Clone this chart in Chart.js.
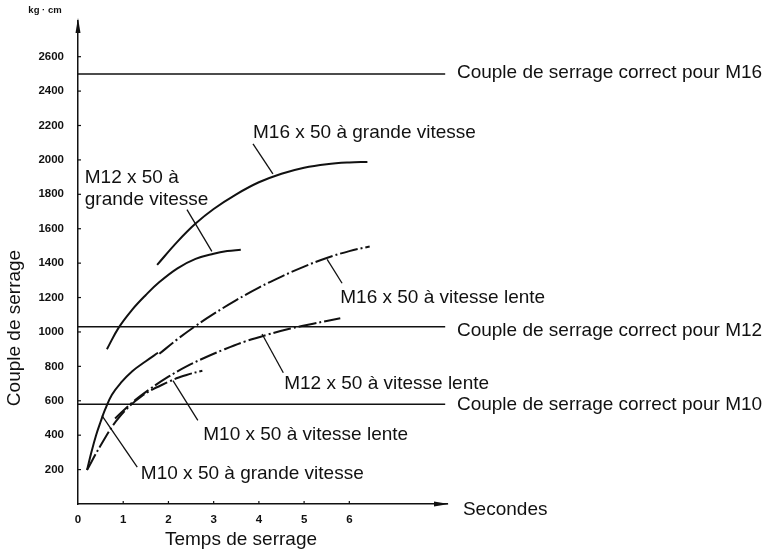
<!DOCTYPE html>
<html>
<head>
<meta charset="utf-8">
<script src="https://cdn.jsdelivr.net/npm/chart.js@4/dist/chart.umd.min.js"></script>
<style>
html,body{margin:0;padding:0;background:#fff;}
canvas{display:block;}
</style>
</head>
<body>
<canvas id="c" width="767" height="556"></canvas>
<script>
// ---- Data (time in seconds, torque in kg·cm) ----
const xTickValues = [0, 1, 2, 3, 4, 5, 6];
const yTickValues = [200, 400, 600, 800, 1000, 1200, 1400, 1600, 1800, 2000, 2200, 2400, 2600];

const m16FastT = [1.75, 2.2, 2.6, 3.0, 3.5, 4.0, 4.5, 5.0, 5.5, 6.0, 6.4];
const m16FastV = [1390, 1525, 1630, 1715, 1800, 1870, 1920, 1955, 1975, 1985, 1988];

const m12FastT = [0.64, 0.9, 1.2, 1.5, 1.8, 2.2, 2.6, 3.0, 3.3, 3.6];
const m12FastV = [900, 1025, 1130, 1215, 1290, 1370, 1425, 1455, 1470, 1478];

const m16SlowT = [1.8, 2.2, 2.6, 3.0, 3.5, 4.0, 4.5, 5.0, 5.5, 6.0, 6.45];
const m16SlowV = [873, 958, 1035, 1105, 1185, 1258, 1322, 1380, 1430, 1470, 1497];

const m12SlowT = [0.82, 1.2, 1.6, 2.0, 2.4, 2.8, 3.2, 3.7, 4.2, 4.7, 5.2, 5.8];
const m12SlowV = [497, 590, 670, 740, 800, 850, 895, 945, 985, 1020, 1048, 1080];

const m10SlowT = [0.2, 0.5, 0.9, 1.4, 2.0, 2.4, 2.75];
const m10SlowV = [197, 340, 500, 625, 710, 750, 775];

const m10FastT = [0.2, 0.3, 0.4, 0.5, 0.6, 0.75, 0.95, 1.2, 1.5, 1.77];
const m10FastV = [197, 305, 400, 478, 550, 635, 705, 772, 830, 879];

// correct tightening torque reference levels
const refNames = ["M16", "M12", "M10"];
const refValues = [2500, 1030, 580];
const refSpan = [0, 8.12];

// ---- Annotations (data coordinates) ----
const leaders = [
  [3.87, 2093, 4.31, 1919],
  [2.41, 1711, 2.96, 1468],
  [5.51, 1422, 5.84, 1283],
  [4.07, 988, 4.54, 763],
  [2.10, 717, 2.65, 486],
  [0.53, 514, 1.31, 214]
];
const curveLabels = [
  {text: "M16 x 50 à grande vitesse", x: 3.87, y: 2156},
  {text: "M12 x 50 à", x: 0.15, y: 1895},
  {text: "grande vitesse", x: 0.15, y: 1769},
  {text: "M16 x 50 à vitesse lente", x: 5.80, y: 1197},
  {text: "M12 x 50 à vitesse lente", x: 4.56, y: 699},
  {text: "M10 x 50 à vitesse lente", x: 2.77, y: 405},
  {text: "M10 x 50 à grande vitesse", x: 1.39, y: 173}
];
const refLabelX = 8.38;
const refLabelY = [2509, 1006, 578];

const pts = (xs, ys) => xs.map((x, i) => ({x: x, y: ys[i]}));
const INK = '#111';
const DASHDOT = [18, 3, 2, 3];
const FONT = '"Liberation Sans", Arial, Helvetica, sans-serif';

function curve(xs, ys, dashed) {
  return {
    data: pts(xs, ys),
    borderColor: INK,
    borderWidth: 2,
    borderDash: dashed ? DASHDOT : [],
    pointRadius: 0,
    fill: false,
    tension: 0.4
  };
}

const datasets = [
  curve(m16FastT, m16FastV, false),
  curve(m12FastT, m12FastV, false),
  curve(m16SlowT, m16SlowV, true),
  curve(m12SlowT, m12SlowV, true),
  curve(m10SlowT, m10SlowV, true),
  curve(m10FastT, m10FastV, false)
];
refValues.forEach(v => {
  datasets.push({
    data: refSpan.map(x => ({x: x, y: v})),
    borderColor: INK,
    borderWidth: 1.5,
    pointRadius: 0,
    fill: false,
    tension: 0
  });
});

const decor = {
  id: 'decor',
  afterDraw(chart) {
    const ctx = chart.ctx;
    const xs = chart.scales.x, ys = chart.scales.y;
    const ca = chart.chartArea;
    const px = v => xs.getPixelForValue(v), py = v => ys.getPixelForValue(v);
    ctx.save();
    ctx.strokeStyle = INK;
    ctx.fillStyle = INK;
    // axis arrows
    const ax = ca.left, ay = ca.bottom;
    ctx.beginPath();
    ctx.moveTo(ax, ca.top - 3); ctx.lineTo(ax - 2.5, ca.top + 12); ctx.lineTo(ax + 2.5, ca.top + 12); ctx.closePath();
    ctx.fill();
    ctx.beginPath();
    ctx.moveTo(ca.right + 2, ay); ctx.lineTo(ca.right - 13, ay - 2.5); ctx.lineTo(ca.right - 13, ay + 2.5); ctx.closePath();
    ctx.fill();
    // tick marks (inside)
    ctx.lineWidth = 1.2;
    yTickValues.forEach(v => {
      ctx.beginPath(); ctx.moveTo(ax, py(v)); ctx.lineTo(ax + 3, py(v)); ctx.stroke();
    });
    xTickValues.slice(1).forEach(v => {
      ctx.beginPath(); ctx.moveTo(px(v), ay); ctx.lineTo(px(v), ay - 3); ctx.stroke();
    });
    // leader lines
    ctx.lineWidth = 1.3;
    leaders.forEach(l => {
      ctx.beginPath(); ctx.moveTo(px(l[0]), py(l[1])); ctx.lineTo(px(l[2]), py(l[3])); ctx.stroke();
    });
    // labels
    ctx.font = '19px ' + FONT;
    ctx.textAlign = 'left';
    ctx.textBaseline = 'middle';
    curveLabels.forEach(l => ctx.fillText(l.text, px(l.x), py(l.y)));
    refNames.forEach((n, i) => ctx.fillText('Couple de serrage correct pour ' + n, px(refLabelX), py(refLabelY[i])));
    ctx.fillText('Secondes', px(refLabelX) + 6, ay + 6);
    // axis titles
    ctx.textAlign = 'center';
    ctx.fillText('Temps de serrage', 241, 540);
    ctx.save();
    ctx.translate(15, 328);
    ctx.rotate(-Math.PI / 2);
    ctx.fillText('Couple de serrage', 0, 0);
    ctx.restore();
    ctx.font = 'bold 9.5px ' + FONT;
    ctx.fillText('kg · cm', 45, 10);
    ctx.restore();
  }
};

new Chart(document.getElementById('c'), {
  type: 'line',
  data: {datasets: datasets},
  options: {
    responsive: false,
    animation: false,
    events: [],
    layout: {padding: {top: 18, right: 320, bottom: 0, left: 0}},
    plugins: {legend: {display: false}, tooltip: {enabled: false}, title: {display: false}},
    scales: {
      x: {
        type: 'linear', min: 0, max: 8.16,
        afterBuildTicks: s => { s.ticks = xTickValues.map(v => ({value: v})); },
        afterFit: s => { s.height = 52; },
        grid: {display: false, drawTicks: false},
        border: {display: true, color: INK, width: 1.5},
        ticks: {color: INK, font: {family: FONT, size: 11.5, weight: 'bold'}, padding: 9, maxRotation: 0,
                callback: v => String(v)}
      },
      y: {
        type: 'linear', min: 0, max: 2808,
        afterBuildTicks: s => { s.ticks = yTickValues.map(v => ({value: v})); },
        afterFit: s => { s.width = 78; },
        grid: {display: false, drawTicks: false},
        border: {display: true, color: INK, width: 1.5},
        ticks: {color: INK, font: {family: FONT, size: 11.5, weight: 'bold'}, padding: 14,
                callback: v => String(v)}
      }
    }
  },
  plugins: [decor]
});
</script>
</body>
</html>
